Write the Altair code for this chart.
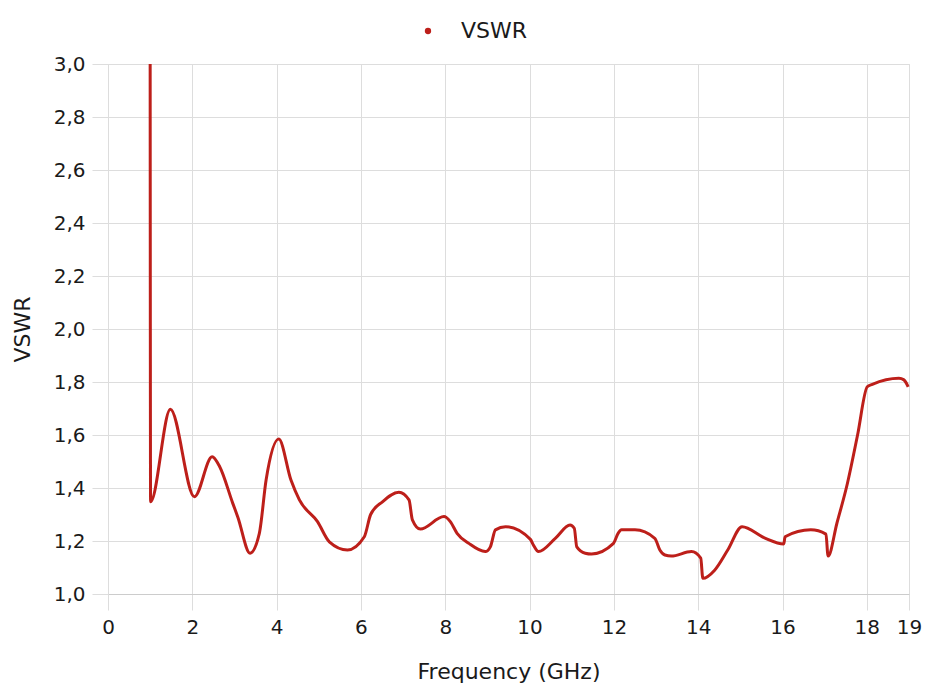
import altair as alt
import pandas as pd

freq = [1.0, 1.01, 1.48, 2.05, 2.47, 2.65, 2.96, 3.08, 3.37, 3.59, 3.75, 4.05, 4.34, 4.54, 4.97, 5.25,
        5.68, 6.08, 6.23, 6.51, 6.90, 7.14, 7.22, 7.41, 7.97, 8.12, 8.28, 8.56, 8.95, 9.07, 9.19, 9.43,
        10.02, 10.09, 10.21, 10.61, 10.96, 11.06, 11.12, 11.32, 11.47, 11.99, 12.10, 12.18, 12.50,
        12.97, 13.09, 13.21, 13.36, 13.84, 14.06, 14.11, 14.39, 14.70, 15.04, 15.57, 16.03, 16.06,
        16.67, 17.03, 17.08, 17.29, 17.54, 17.78, 18.01, 18.13, 18.76, 18.88, 18.98]
vswr = [3.0, 1.348, 1.697, 1.367, 1.518, 1.48, 1.342, 1.29, 1.154, 1.229, 1.43, 1.585, 1.43, 1.355, 1.273, 1.197,
        1.166, 1.216, 1.30, 1.348, 1.384, 1.355, 1.28, 1.245, 1.292, 1.273, 1.229, 1.191, 1.160, 1.178, 1.242, 1.254,
        1.206, 1.185, 1.16, 1.21, 1.26, 1.248, 1.178, 1.154, 1.151, 1.191, 1.229, 1.242, 1.242,
        1.21, 1.166, 1.147, 1.143, 1.16, 1.135, 1.059, 1.09, 1.166, 1.254, 1.212, 1.189, 1.216,
        1.242, 1.226, 1.143, 1.267, 1.418, 1.60, 1.782, 1.791, 1.814, 1.808, 1.782]
series = ["VSWR"] * len(freq)
x_ticks = [0, 2, 4, 6, 8, 10, 12, 14, 16, 18, 19]
y_ticks = [1.0, 1.2, 1.4, 1.6, 1.8, 2.0, 2.2, 2.4, 2.6, 2.8, 3.0]

df = pd.DataFrame({"freq": freq, "vswr": vswr, "series": series})

FONT = "DejaVu Sans"
TXT = "#1a1a1a"

chart = alt.Chart(df).mark_line(interpolate="monotone", strokeWidth=3).encode(
    x=alt.X("freq:Q", title="Frequency (GHz)",
            scale=alt.Scale(domain=[0, 19], nice=False, zero=False),
            axis=alt.Axis(values=x_ticks, labelFontSize=20, titleFontSize=22, labelFlush=False,
                          labelPadding=7, tickSize=16, labelColor=TXT, titleColor=TXT,
                          titleFontWeight="normal", labelFont=FONT, titleFont=FONT,
                          titleY=77, titleBaseline="middle",
                          domainColor="#cccccc", tickColor="#dddddd", gridColor="#dddddd")),
    y=alt.Y("vswr:Q", title="VSWR",
            scale=alt.Scale(domain=[1.0, 3.0], nice=False, zero=False),
            axis=alt.Axis(values=y_ticks, labelExpr="replace(format(datum.value, '.1f'), '.', ',')",
                          labelFontSize=20, titleFontSize=22, labelPadding=7, labelFlush=False,
                          tickSize=16, labelColor=TXT, titleColor=TXT, titleFontWeight="normal",
                          labelFont=FONT, titleFont=FONT, titleX=-86, titleBaseline="middle",
                          domainColor="#dddddd", tickColor="#dddddd", gridColor="#dddddd")),
    color=alt.Color("series:N", scale=alt.Scale(range=["#bd1f1a"]),
                    legend=alt.Legend(title=None, orient="none", legendX=309, legendY=-44,
                                      symbolType="circle", symbolSize=40,
                                      labelFontSize=22, labelFont=FONT, labelColor=TXT,
                                      labelOffset=22, symbolStrokeWidth=0, symbolFillColor="#bd1f1a",
                                      padding=0)),
).properties(
    width=801, height=530,
    autosize=alt.AutoSizeParams(type="none"),
    padding={"left": 100, "top": 56, "right": 13, "bottom": 90},
).configure_view(stroke=None).configure(background="white")

chart.save("out.html", embed_options={"renderer": "svg", "actions": False})
